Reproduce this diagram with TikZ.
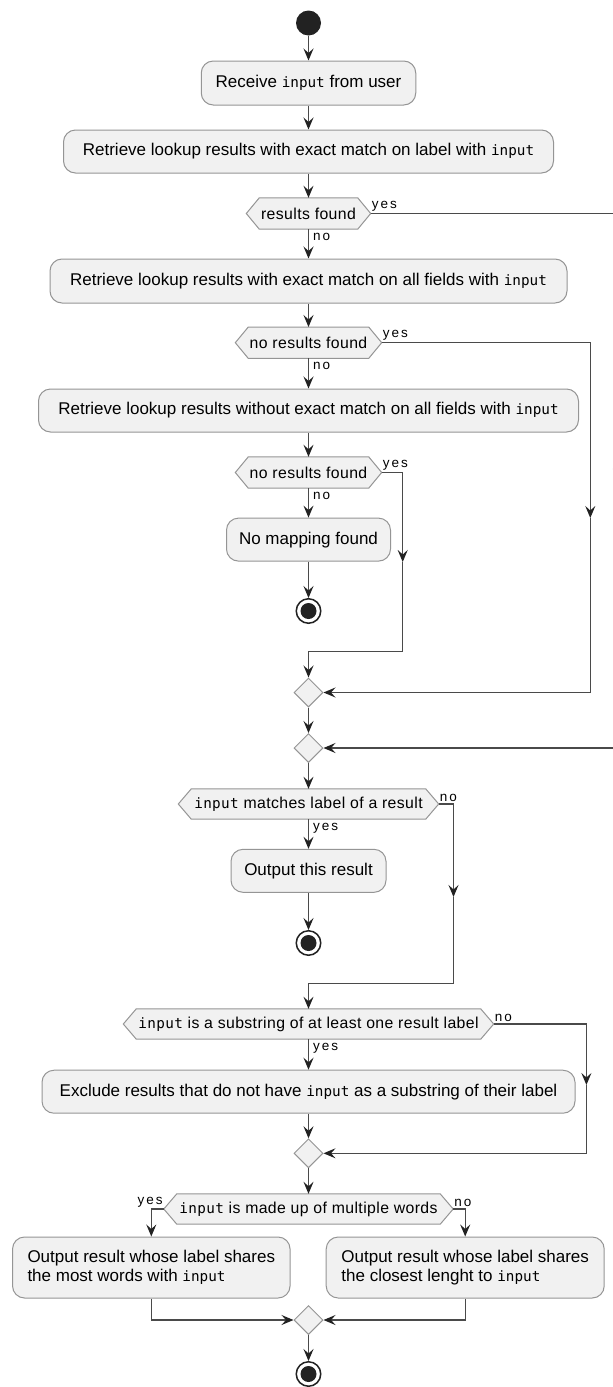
\documentclass[tikz,border=0pt]{standalone}
\usepackage{fontspec}
\setmainfont{Liberation Sans}
\setmonofont{DejaVu Sans Mono}
\newfontfamily\decfont{Liberation Sans}[LetterSpace=2.5]
\newfontfamily\decmono{DejaVu Sans Mono}[LetterSpace=2.5]
\newfontfamily\lblfont{Liberation Sans}[LetterSpace=15]
\usetikzlibrary{arrows.meta,shapes.geometric,backgrounds,calc}
\newcommand\myinput{{\fontsize{14.3}{18.5}\selectfont\ttfamily input}}
\newcommand\mydinput{{\fontsize{14.3}{16}\selectfont\decmono input}}
\definecolor{boxfill}{HTML}{F1F1F1}
\definecolor{boxline}{HTML}{959595}
\definecolor{conn}{HTML}{4A4A4A}
\definecolor{tipc}{HTML}{222222}
\definecolor{dot}{HTML}{222222}
\begin{document}
\begin{tikzpicture}[x=1pt,y=-1pt,
  box/.style={draw=boxline, line width=1pt, fill=boxfill, rounded corners=12pt, inner sep=0pt, font=\fontsize{17}{18.5}\selectfont, text=black},
  dec/.style={inner sep=0pt, font=\fontsize{15.8}{17}\selectfont\decfont, text=black},
  hex/.style={draw=boxline, line width=1pt, fill=boxfill},
  merge/.style={diamond, draw=boxline, line width=1pt, fill=boxfill, minimum width=29pt, minimum height=29pt, inner sep=0pt, aspect=1},
  ln/.style={draw=conn, line width=1.2pt},
  arr/.style={ln, -{Stealth[length=12pt,width=10pt,inset=4.5pt,color=tipc]}},
  lbl/.style={font=\fontsize{13.5}{14}\selectfont\lblfont, inner sep=0pt, text=black},
  startnode/.style={circle, fill=dot, minimum size=25pt, inner sep=0pt},
  endnode/.style={circle, draw=dot, line width=1.5pt, fill=white, minimum size=24.5pt, inner sep=0pt}
]
\useasboundingbox (0,0) rectangle (613,1387);
\clip (0,0) rectangle (613,1387);

% nodes
\node[startnode] (st) at (308.5,23) {};
\node[box, minimum width=214.5pt, minimum height=44pt] (b1) at (308.5,83) {Receive \myinput{} from user};
\node[box, minimum width=490pt, minimum height=43pt] (b2) at (308.5,151.5) {Retrieve lookup results with exact match on label with \myinput};
\node[dec, minimum width=124pt, minimum height=31pt] (d1) at (308.5,213.5) {results found};
\node[box, minimum width=517pt, minimum height=44pt] (b3) at (308.5,281) {Retrieve lookup results with exact match on all fields with \myinput};
\node[dec, minimum width=146pt, minimum height=31pt] (d2) at (308.5,342.7) {no results found};
\node[box, minimum width=540pt, minimum height=43pt] (b4) at (308.5,410.5) {Retrieve lookup results without exact match on all fields with \myinput};
\node[dec, minimum width=146pt, minimum height=31pt] (d3) at (308.5,472.5) {no results found};
\node[box, minimum width=164pt, minimum height=43pt] (b5) at (308.5,539.6) {No mapping found};
\node[endnode] (e1) at (308.5,611) {};
\fill[dot] (e1.center) circle (8pt);
\node[merge] (m1) at (308.5,692.5) {};
\node[merge] (m2) at (308.5,748) {};
\node[dec, minimum width=260pt, minimum height=30pt] (d4) at (308.5,804) {\mydinput{} matches label of a result};
\node[box, minimum width=155pt, minimum height=43pt] (b6) at (308.5,870.8) {Output this result};
\node[endnode] (e2) at (308.5,943) {};
\fill[dot] (e2.center) circle (8pt);
\node[dec, minimum width=370pt, minimum height=30pt] (d5) at (308.5,1024) {\mydinput{} is a substring of at least one result label};
\node[box, minimum width=533pt, minimum height=43pt] (b7) at (308.5,1091.7) {Exclude results that do not have \myinput{} as a substring of their label};
\node[merge] (m3) at (308.5,1153.3) {};
\node[dec, minimum width=289pt, minimum height=30pt] (d6) at (308.5,1209) {\mydinput{} is made up of multiple words};
\node[box, minimum width=277.5pt, minimum height=61pt, align=left] (b8) at (151.3,1267.5) {Output result whose label shares\\the most words with \myinput};
\node[box, minimum width=278pt, minimum height=61pt, align=left] (b9) at (465.2,1267.5) {Output result whose label shares\\the closest lenght to \myinput};
\node[merge] (m4) at (308.5,1320) {};
\node[endnode] (e3) at (308.5,1374) {};
\fill[dot] (e3.center) circle (8pt);

% hexagons behind decision texts
\begin{scope}[on background layer]
\fill[white] (0,0) rectangle (613,1387);
\foreach \n in {d1,d2,d3,d4,d5,d6}{
  \draw[hex] (\n.west) -- ([xshift=13pt]\n.north west) -- ([xshift=-13pt]\n.north east) -- (\n.east) -- ([xshift=-13pt]\n.south east) -- ([xshift=13pt]\n.south west) -- cycle;
}
\end{scope}

% helper coordinates
\coordinate (ar1) at (618,481);
\coordinate (ar2) at (590.3,518);
\coordinate (ar3) at (402.7,562);
\coordinate (ar4) at (453.5,897);
\coordinate (ar5) at (586.4,1085);
\coordinate (j3) at (308.5,651.7);
\coordinate (j4) at (308.5,983.3);

% connectors
\draw[arr] (st) -- (b1);
\draw[arr] (b1) -- (b2);
\draw[arr] (b2) -- (d1);
\draw[arr] (d1) -- (b3);
\draw[arr] (b3) -- (d2);
\draw[arr] (d2) -- (b4);
\draw[arr] (b4) -- (d3);
\draw[arr] (d3) -- (b5);
\draw[arr] (b5) -- (e1);
\draw[arr] (d1.east) -| (ar1);
\draw[arr] (ar1) |- (m2.east);
\draw[arr] (d2.east) -| (ar2);
\draw[arr] (ar2) |- (m1.east);
\draw[arr] (d3.east) -| (ar3);
\draw[arr] (ar3) |- (j3) -- (m1);
\draw[arr] (m1) -- (m2);
\draw[arr] (m2) -- (d4);
\draw[arr] (d4) -- (b6);
\draw[arr] (b6) -- (e2);
\draw[arr] (d4.east) -| (ar4);
\draw[arr] (ar4) |- (j4) -- (d5);
\draw[arr] (d5) -- (b7);
\draw[arr] (b7) -- (m3);
\draw[arr] (d5.east) -| (ar5);
\draw[arr] (ar5) |- (m3.east);
\draw[arr] (m3) -- (d6);
\draw[arr] (d6.west) -| (b8.north);
\draw[arr] (d6.east) -| (b9.north);
\draw[arr] (b8.south) |- (m4.west);
\draw[arr] (b9.south) |- (m4.east);
\draw[arr] (m4) -- (e3);

% labels
\node[lbl, anchor=south west] (l1y) at ([xshift=1pt,yshift=2pt]d1.east) {yes};
\node[lbl, anchor=north west] (l1n) at ([xshift=4.5pt,yshift=-4pt]d1.south) {no};
\node[lbl, anchor=south west] (l2y) at ([xshift=1pt,yshift=2pt]d2.east) {yes};
\node[lbl, anchor=north west] (l2n) at ([xshift=4.5pt,yshift=-4pt]d2.south) {no};
\node[lbl, anchor=south west] (l3y) at ([xshift=1pt,yshift=2pt]d3.east) {yes};
\node[lbl, anchor=north west] (l3n) at ([xshift=4.5pt,yshift=-4pt]d3.south) {no};
\node[lbl, anchor=south west] (l4n) at ([xshift=1pt,yshift=2pt]d4.east) {no};
\node[lbl, anchor=north west] (l4y) at ([xshift=4.5pt,yshift=-4pt]d4.south) {yes};
\node[lbl, anchor=south west] (l5n) at ([xshift=1pt,yshift=2pt]d5.east) {no};
\node[lbl, anchor=north west] (l5y) at ([xshift=4.5pt,yshift=-4pt]d5.south) {yes};
\node[lbl, anchor=south east] (l6y) at ([xshift=-1pt,yshift=2pt]d6.west) {yes};
\node[lbl, anchor=south west] (l6n) at ([xshift=1pt,yshift=2pt]d6.east) {no};
\end{tikzpicture}
\end{document}
